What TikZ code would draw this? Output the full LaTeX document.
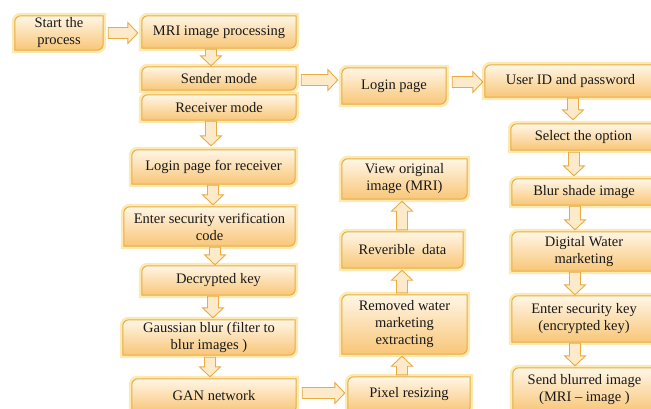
\documentclass[tikz,border=0pt]{standalone}
\usepackage{fontspec}
\setmainfont{Liberation Serif}
\usetikzlibrary{calc}
\definecolor{boxtop}{HTML}{FFF6E6}
\definecolor{boxbot}{HTML}{F8C677}
\definecolor{boxline}{HTML}{E8AC42}
\definecolor{glowc}{HTML}{FBE08A}
\definecolor{arrfill}{HTML}{FCEACB}
\pgfdeclarelayer{bg}
\pgfsetlayers{bg,main}
\tikzset{
  box/.style={inner sep=0pt, align=center, font=\fontsize{14.5}{17}\selectfont, text=black!90},
  glowline/.style={draw=glowc, line width=6pt, opacity=0.65},
  boxfill/.style={top color=boxtop, bottom color=boxbot},
  boxedge/.style={draw=boxline, line width=1pt},
  blockarr/.style={fill=arrfill, draw=boxline, line width=0.9pt, line join=miter},
}
\newcommand\rshape[2]{\path[#2] (#1.north east) -- ([yshift=6pt]#1.south east)
  arc[start angle=0,end angle=-90,radius=6pt] -- (#1.south west) --
  ([yshift=-6pt]#1.north west) arc[start angle=180,end angle=90,radius=6pt] -- cycle;}
\newcommand\frameit[1]{\rshape{#1}{glowline}\rshape{#1}{boxfill}\rshape{#1}{boxedge}}
\newcommand\barrow[2]{%
  \coordinate (ba-s) at #1;
  \coordinate (ba-e) at #2;
  \coordinate (ba-h) at ($(ba-e)!10pt!(ba-s)$);
  \path[blockarr] ($(ba-s)!5.5pt!90:(ba-e)$) -- ($(ba-h)!5.5pt!-90:(ba-s)$)
    -- ($(ba-h)!10.5pt!-90:(ba-s)$) -- (ba-e) -- ($(ba-h)!10.5pt!90:(ba-s)$)
    -- ($(ba-h)!5.5pt!90:(ba-s)$) -- ($(ba-s)!5.5pt!-90:(ba-e)$) -- cycle;}
\begin{document}
\begin{tikzpicture}[x=1pt,y=1pt]
\useasboundingbox (0,0) rectangle (651,-408);
% left column
\node[box, minimum width=88pt, minimum height=34pt] (start) at (59,-33) {Start the\\process};
\node[box, minimum width=154pt, minimum height=32pt] (mri) at (219,-32) {MRI image processing};
\node[box, minimum width=154pt, minimum height=23pt] (sender) at (219,-78.5) {Sender mode};
\node[box, minimum width=154pt, minimum height=25pt] (receiver) at (219,-107.5) {Receiver mode};
\node[box, minimum width=163pt, minimum height=34pt] (loginrec) at (213.5,-167) {Login page for receiver};
\node[box, minimum width=171pt, minimum height=39pt] (entercode) at (209.5,-226.5) {Enter security verification\\code};
\node[box, minimum width=153pt, minimum height=29pt] (decrypt) at (218.5,-280.5) {Decrypted key};
\node[box, minimum width=172pt, minimum height=35pt] (gauss) at (209,-337.5) {Gaussian blur (filter to\\blur images )};
\node[box, minimum width=164pt, minimum height=33pt] (gan) at (214,-395.5) {GAN network};
% middle column
\node[box, minimum width=104pt, minimum height=36pt] (login) at (394,-86) {Login page};
\node[box, minimum width=125pt, minimum height=40pt] (view) at (404.5,-179) {View original\\image (MRI)};
\node[box, minimum width=121pt, minimum height=36pt] (rev) at (402.5,-250) {Reverible\ \ data};
\node[box, minimum width=125pt, minimum height=59pt] (removed) at (404.5,-324.5) {Removed water\\marketing\\extracting};
\node[box, minimum width=122pt, minimum height=35pt] (pixel) at (409,-394.5) {Pixel resizing};
% right column
\node[box, minimum width=171pt, minimum height=32pt] (user) at (570.5,-81) {User ID and password};
\node[box, minimum width=145pt, minimum height=26pt] (select) at (583.5,-137) {Select the option};
\node[box, minimum width=144pt, minimum height=26pt] (blur) at (584,-192) {Blur shade image};
\node[box, minimum width=144pt, minimum height=39pt] (digital) at (584,-251.5) {Digital Water\\marketing};
\node[box, minimum width=144pt, minimum height=46pt] (enterkey) at (584,-319) {Enter security key\\(encrypted key)};
\node[box, minimum width=143pt, minimum height=44pt] (send) at (584.5,-390) {Send blurred image\\(MRI -- image )};
\begin{pgfonlayer}{bg}
\fill[white] (0,0) rectangle (651,-408);
\begin{scope}
\clip (0,0) rectangle (651,-408);
\foreach \n in {start,mri,sender,receiver,loginrec,entercode,decrypt,gauss,gan,login,view,rev,removed,pixel,user,select,blur,digital,enterkey,send}{\frameit{\n}}
\end{scope}
\end{pgfonlayer}
% arrows
\barrow{([xshift=5pt]start.east)}{([xshift=-4pt]start.east -| mri.west)}
\barrow{([xshift=-8pt,yshift=-1pt]mri.south)}{([xshift=-8pt,yshift=1pt]sender.north)}
\barrow{([xshift=-8pt,yshift=-1pt]receiver.south)}{([xshift=-2.5pt,yshift=4pt]loginrec.north)}
\barrow{([xshift=5pt,yshift=-1.5pt]sender.east)}{([xshift=-4pt,yshift=-1.5pt]sender.east -| login.west)}
\barrow{([xshift=6pt,yshift=4pt]login.east)}{([xshift=-2pt,yshift=4pt]login.east -| user.west)}
\barrow{([xshift=2.5pt,yshift=-1pt]user.south)}{([xshift=-10.5pt,yshift=4pt]select.north)}
\barrow{([xshift=-9.5pt,yshift=-2pt]select.south)}{([xshift=-10pt,yshift=3pt]blur.north)}
\barrow{([xshift=-9pt,yshift=-1pt]blur.south)}{([xshift=-9pt,yshift=2pt]digital.north)}
\barrow{([xshift=-9pt,yshift=-1pt]digital.south)}{([xshift=-9pt,yshift=1pt]enterkey.north)}
\barrow{([xshift=-9pt,yshift=-1pt]enterkey.south)}{([xshift=-9.5pt,yshift=2pt]send.north)}
\barrow{([xshift=-0.5pt,yshift=-1pt]loginrec.south)}{([xshift=3.5pt,yshift=2pt]entercode.north)}
\barrow{([xshift=5.5pt,yshift=-1pt]entercode.south)}{([xshift=-3.5pt,yshift=1pt]decrypt.north)}
\barrow{([xshift=-5.5pt,yshift=-1pt]decrypt.south)}{([xshift=4pt,yshift=2pt]gauss.north)}
\barrow{([xshift=1pt,yshift=-2pt]gauss.south)}{([xshift=-4pt,yshift=2pt]gan.north)}
\barrow{([xshift=6pt,yshift=2.5pt]gan.east)}{([xshift=-3pt,yshift=2.5pt]gan.east -| pixel.west)}
\barrow{([xshift=-7pt,yshift=2pt]pixel.north)}{([xshift=-2.5pt,yshift=-2pt]removed.south)}
\barrow{([xshift=-2.5pt,yshift=2pt]removed.north)}{([xshift=-0.5pt,yshift=-2pt]rev.south)}
\barrow{([xshift=-0.5pt,yshift=2pt]rev.north)}{([xshift=-2.5pt,yshift=-2pt]view.south)}
\end{tikzpicture}
\end{document}
